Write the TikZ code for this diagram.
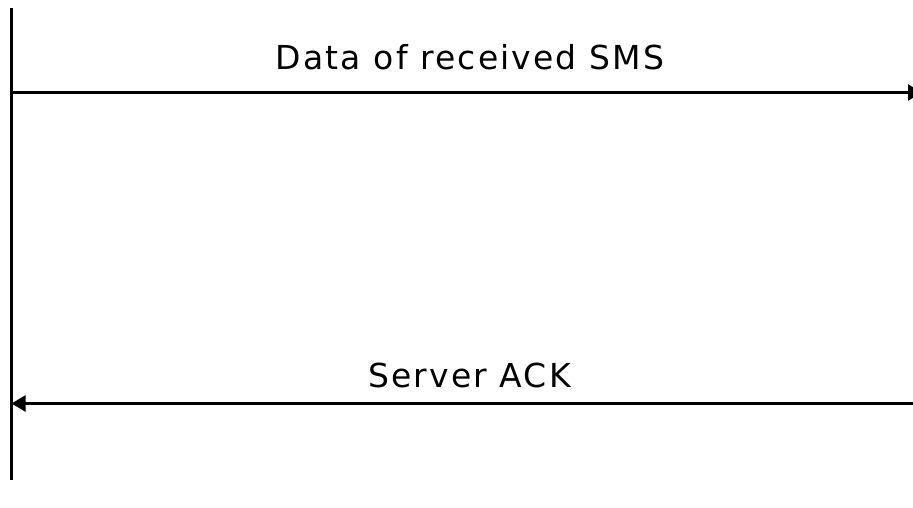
\documentclass[tikz,border=0pt]{standalone}
\usepackage{fontspec}
\setmainfont{DejaVu Sans}[LetterSpace=6.5]
\usetikzlibrary{arrows.meta}
\tikzset{
  msg/.style={line width=2.4pt, -{Triangle[length=14pt,width=16pt]}},
  life/.style={line width=2.4pt},
  lbl/.style={anchor=base, inner sep=0pt, font=\fontsize{33}{35}\selectfont}
}
\begin{document}
\begin{tikzpicture}[x=1pt,y=-1pt]
\useasboundingbox (0,0) rectangle (913,507);
\clip (0,0) rectangle (913,507);
\coordinate (lt) at (11.5,8);
\coordinate (lb) at (11.5,480);
\draw[life] (lt) -- (lb);
\coordinate (a1s) at (11.5,92.5);
\coordinate (a1e) at (922,92.5);
\draw[msg] (a1s) -- (a1e);
\coordinate (a2s) at (913,403.5);
\coordinate (a2e) at (11.5,403.5);
\draw[msg] (a2s) -- (a2e);
\node[lbl] (t1) at (470,69) {Data of received SMS};
\node[lbl] (t2) at (469.5,387) {Server ACK};
\end{tikzpicture}
\end{document}
